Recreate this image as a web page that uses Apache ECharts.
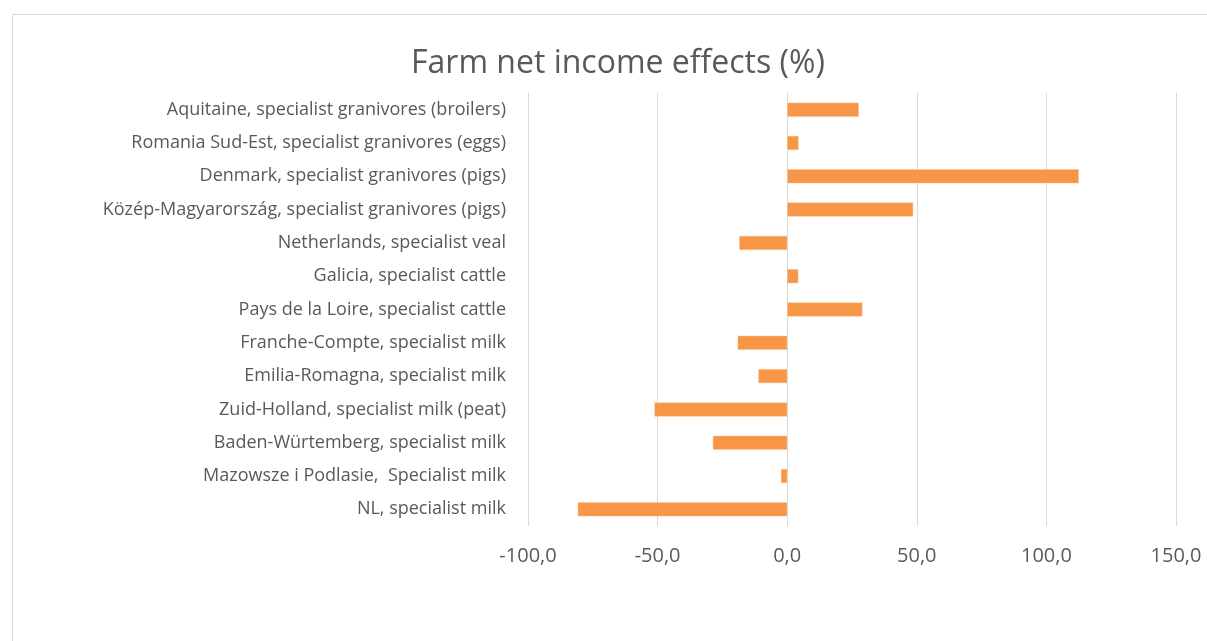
<!DOCTYPE html>
<html>
<head>
<meta charset="utf-8">
<script src="https://cdn.jsdelivr.net/npm/echarts@6/dist/echarts.min.js"></script>
<style>
  html, body { margin: 0; padding: 0; background: #fff; }
  #myChart { width: 1207px; height: 641px; }
</style>
</head>
<body>
<div id="myChart"></div>
<script>
// categories, top to bottom as in the picture
const categories = [
  'Aquitaine, specialist granivores (broilers)',
  'Romania Sud-Est, specialist granivores (eggs)',
  'Denmark, specialist granivores (pigs)',
  'Közép-Magyarország, specialist granivores (pigs)',
  'Netherlands, specialist veal',
  'Galicia, specialist cattle',
  'Pays de la Loire, specialist cattle',
  'Franche-Compte, specialist milk',
  'Emilia-Romagna, specialist milk',
  'Zuid-Holland, specialist milk (peat)',
  'Baden-Würtemberg, specialist milk',
  'Mazowsze i Podlasie,  Specialist milk',
  'NL, specialist milk'
];
const incomeEffect = [27.6, 4.4, 112.5, 48.6, -18.5, 4.3, 29.0, -19.1, -11.1, -51.2, -28.7, -2.4, -80.8];
const xTicks = [-100, -50, 0, 50, 100, 150];

const fontFam = '"Open Sans", "Noto Sans", sans-serif';
const myChart = echarts.init(document.getElementById('myChart'));
myChart.setOption({
  backgroundColor: '#fff',
  animation: false,
  title: {
    text: 'Farm net income effects (%)',
    left: 406,
    top: 43,
    textStyle: { color: '#595959', fontSize: 32, fontWeight: 'normal', fontFamily: fontFam }
  },
  graphic: [{
    type: 'rect',
    shape: { x: 12.5, y: 14.5, width: 1300, height: 700 },
    style: { fill: 'none', stroke: '#D9D9D9', lineWidth: 1 },
    silent: true
  }],
  grid: { left: 528, right: 31, top: 93, bottom: 115, containLabel: false },
  xAxis: {
    type: 'value',
    min: xTicks[0],
    max: xTicks[xTicks.length - 1],
    interval: 50,
    axisLine: { show: false },
    axisTick: { show: false },
    splitLine: { lineStyle: { color: '#D9D9D9', width: 1 } },
    axisLabel: {
      color: '#595959',
      fontSize: 20,
      fontFamily: fontFam,
      margin: 20,
      formatter: v => v.toFixed(1).replace('.', ',')
    }
  },
  yAxis: {
    type: 'category',
    data: categories,
    inverse: true,
    axisLine: { show: false },
    axisTick: { show: false },
    axisLabel: { color: '#595959', fontSize: 18, fontFamily: fontFam, margin: 22 }
  },
  series: [{
    type: 'bar',
    data: incomeEffect,
    barWidth: 14,
    itemStyle: { color: '#F79646', borderColor: '#FAC090', borderWidth: 0.5 }
  }]
});
</script>
</body>
</html>
